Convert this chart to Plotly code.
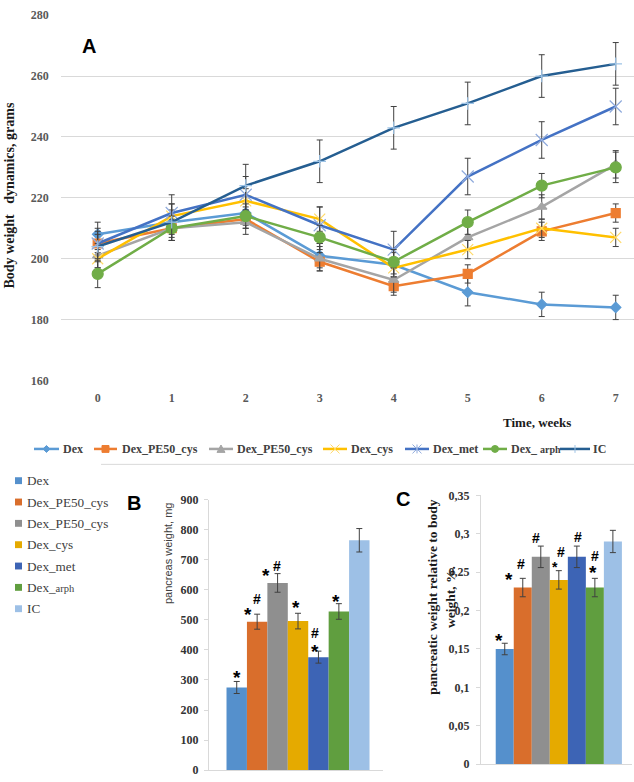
import plotly.graph_objects as go

W, H = 634, 782

# ---------------- DATA ----------------
weeks = [0, 1, 2, 3, 4, 5, 6, 7]
line_names = ["Dex", "Dex_PE50_cys", "Dex_PE50_cys", "Dex_cys", "Dex_met", "Dex_ arph", "IC"]
dex = [208, 212, 215, 201, 198, 189, 185, 184]
dex_pe50_a = [205, 210, 213, 199, 191, 195, 209, 215]
dex_pe50_b = [201, 210, 212, 200, 193, 207, 217, 231]
dex_cys = [200, 214, 219, 213, 197, 203, 210, 207]
dex_met = [205, 215, 221, 211, 203, 227, 239, 250]
dex_arph = [195, 210, 214, 207, 199, 212, 224, 230]
ic = [204, 212, 224, 232, 243, 251, 260, 264]

dex_err = [4, 4, 4, 4, 4, 4.5, 4, 4]
dex_pe50_a_err = [3, 3, 3, 3, 3, 3, 3, 3]
dex_pe50_b_err = [4, 4, 4, 4, 4, 4, 4, 4.5]
dex_cys_err = [3, 4, 4, 4, 3, 3, 3, 3]
dex_met_err = [5, 6, 6, 6, 6, 6, 6, 6]
dex_arph_err = [4.5, 4, 4, 4, 4, 4, 4, 5]
ic_err = [5, 6, 7, 7, 7, 7, 7, 7]

groups = ["Dex", "Dex_PE50_cys", "Dex_PE50_cys", "Dex_cys", "Dex_met", "Dex_arph", "IC"]
pancreas_mg = [275, 494, 623, 496, 376, 528, 765]
pancreas_err = [20, 25, 31, 26, 20, 26, 39]
ratio_pct = [0.15, 0.23, 0.27, 0.24, 0.27, 0.23, 0.29]
ratio_err = [0.0075, 0.012, 0.014, 0.012, 0.014, 0.012, 0.0145]

# significance marks (per bar)
sig_B = ["*", "*#", "*#", "*", "#*", "*", ""]
sig_C = ["*", "*#", "#", "*#", "#", "#*", ""]

# ---------------- STYLE ----------------
SERIF = "Liberation Serif, Times New Roman, serif"
SANS = "Liberation Sans, Arial, sans-serif"
line_colors = ["#5B9BD5", "#ED7D31", "#A5A5A5", "#FFC000", "#4472C4", "#70AD47", "#255E91"]
marker_syms = ["diamond", "square", "triangle-up", "x-thin-open", "x-thin-open", "circle", "cross-thin-open"]
marker_sizes = [8, 9, 9, 11, 12, 11, 9]
marker_cols = ["#5B9BD5", "#ED7D31", "#A5A5A5", "#FFD966", "#8FAADC", "#70AD47", "#9DC3E6"]
bar_colors = ["#5590CC", "#D96E2C", "#8F8F8F", "#E5AA00", "#3D64B5", "#609E3F", "#9DC0E6"]


def px(x):
    return x / W


def py(y):
    return 1 - y / H


fig = go.Figure()

series = [dex, dex_pe50_a, dex_pe50_b, dex_cys, dex_met, dex_arph, ic]
errs = [dex_err, dex_pe50_a_err, dex_pe50_b_err, dex_cys_err, dex_met_err, dex_arph_err, ic_err]
for i, (name, ys, er) in enumerate(zip(line_names, series, errs)):
    fig.add_trace(go.Scatter(
        x=weeks, y=ys, name=name, mode="lines+markers",
        line=dict(color=line_colors[i], width=2.5),
        marker=dict(symbol=marker_syms[i], size=marker_sizes[i], color=marker_cols[i],
                    line=dict(color=marker_cols[i], width=1.2)),
        error_y=dict(type="data", array=er, color="#404040", thickness=1, width=3),
        xaxis="x", yaxis="y", showlegend=False,
    ))

idx = list(range(len(groups)))
fig.add_trace(go.Bar(
    x=idx, y=pancreas_mg, width=1, marker=dict(color=bar_colors, line=dict(width=0)),
    error_y=dict(type="data", array=pancreas_err, color="#404040", thickness=1, width=3),
    xaxis="x2", yaxis="y2", showlegend=False, hovertext=groups,
))
fig.add_trace(go.Bar(
    x=idx, y=ratio_pct, width=1, marker=dict(color=bar_colors, line=dict(width=0)),
    error_y=dict(type="data", array=ratio_err, color="#404040", thickness=1, width=3),
    xaxis="x3", yaxis="y3", showlegend=False, hovertext=groups,
))

tickfont_grey = dict(family=SERIF, size=12, color="#595959", weight="bold")
tickfont_dark = dict(family=SERIF, size=12, color="#333333", weight="bold")

fig.update_layout(
    width=W, height=H, margin=dict(l=0, r=0, t=0, b=0),
    paper_bgcolor="white", plot_bgcolor="white",
    xaxis=dict(domain=[px(60.7), 1], range=[-0.5, 7.247], tickvals=weeks,
               showgrid=False, zeroline=False, showline=False, ticks="",
               tickfont=tickfont_grey, ticklabelstandoff=9),
    yaxis=dict(domain=[py(380.3), py(8.3)], range=[160, 280], dtick=20,
               showgrid=True, gridcolor="#D9D9D9", gridwidth=1, zeroline=False,
               showline=False, ticks="", tickfont=tickfont_grey, ticklabelstandoff=11),
    xaxis2=dict(domain=[px(209), px(383)], range=[-1.357, 7.16], anchor="y2",
                showgrid=False, zeroline=False, showline=True, linecolor="#D9D9D9",
                showticklabels=False, ticks=""),
    yaxis2=dict(domain=[py(777), py(501.7)], range=[0, 900], dtick=100, anchor="x2",
                showgrid=False, zeroline=False, showline=True, linecolor="#D9D9D9",
                ticks="outside", ticklen=4, tickcolor="#D9D9D9",
                tickfont=tickfont_dark, ticklabelstandoff=3),
    xaxis3=dict(domain=[px(481), px(632)], range=[-1.317, 7.06], anchor="y3",
                showgrid=False, zeroline=False, showline=True, linecolor="#D9D9D9",
                showticklabels=False, ticks=""),
    yaxis3=dict(domain=[py(771), py(497.3)], range=[0, 0.35], anchor="x3",
                tickvals=[0, 0.05, 0.1, 0.15, 0.2, 0.25, 0.3, 0.35],
                ticktext=["0", "0,05", "0,1", "0,15", "0,2", "0,25", "0,3", "0,35"],
                showgrid=False, zeroline=False, showline=True, linecolor="#D9D9D9",
                ticks="outside", ticklen=4, tickcolor="#D9D9D9",
                tickfont=tickfont_dark, ticklabelstandoff=4),
)

ann = []
shapes = []

# panel letters
for letter, x, y in [("A", 89, 40), ("B", 134, 505), ("C", 403, 501)]:
    ann.append(dict(text=letter, x=px(x), y=py(y), xref="paper", yref="paper", showarrow=False,
                    font=dict(family=SANS, size=20, color="black", weight="bold"),
                    xanchor="center", yanchor="middle"))

# axis titles
ann.append(dict(text="Body weight\u00a0\u00a0\u00a0dynamics, grams", x=px(10), y=py(192),
                xref="paper", yref="paper", showarrow=False, textangle=-90,
                font=dict(family=SERIF, size=14, color="#1a1a1a", weight="bold"),
                xanchor="center", yanchor="middle"))
ann.append(dict(text="Time, weeks", x=px(537), y=py(423.3), xref="paper", yref="paper",
                showarrow=False, font=dict(family=SERIF, size=13, color="#1a1a1a", weight="bold"),
                xanchor="center", yanchor="middle"))
ann.append(dict(text="pancreas weight, mg", x=px(168), y=py(556), xref="paper", yref="paper",
                showarrow=False, textangle=-90,
                font=dict(family=SANS, size=11, color="#404040"),
                xanchor="center", yanchor="middle"))
ann.append(dict(text="pancreatic weight relative to body<br>weight, %.", x=px(441.5), y=py(601),
                xref="paper", yref="paper", showarrow=False, textangle=-90,
                font=dict(family=SERIF, size=13.5, color="#1a1a1a", weight="bold"),
                xanchor="center", yanchor="middle"))

# ---- top legend (line chart) ----
leg_y = 450
leg_line = [(34, 59), (94, 117), (209, 233), (323, 347), (405, 429), (483, 507), (560, 590)]
leg_text_x = [61, 120, 235, 349, 431, 509, 591]
legend_labels = ["Dex", "Dex_PE50_cys", "Dex_PE50_cys", "Dex_cys", "Dex_met",
                 "Dex_ <span style='font-size:10px'>arph</span>", "IC"]


def pline(x0, y0, x1, y1, color, w):
    return dict(type="line", xref="paper", yref="paper", x0=px(x0), y0=py(y0), x1=px(x1), y1=py(y1),
                line=dict(color=color, width=w))


def ppath(points, color, fill=True, w=1):
    d = "M " + " L ".join(f"{px(a):.5f},{py(b):.5f}" for a, b in points) + (" Z" if fill else "")
    return dict(type="path", xref="paper", yref="paper", path=d,
                fillcolor=color if fill else None, line=dict(color=color, width=w))


for i, ((x0, x1), tx) in enumerate(zip(leg_line, leg_text_x)):
    shapes.append(pline(x0, leg_y, x1, leg_y, line_colors[i], 2.5))
    cx = (x0 + x1) / 2
    r = 3.5
    c = marker_cols[i]
    sym = marker_syms[i]
    if sym == "diamond":
        shapes.append(ppath([(cx, leg_y - r), (cx + r, leg_y), (cx, leg_y + r), (cx - r, leg_y)], c))
    elif sym == "square":
        shapes.append(ppath([(cx - r, leg_y - r), (cx + r, leg_y - r), (cx + r, leg_y + r), (cx - r, leg_y + r)], c))
    elif sym == "triangle-up":
        shapes.append(ppath([(cx, leg_y - r - 0.5), (cx + r + 0.5, leg_y + r), (cx - r - 0.5, leg_y + r)], c))
    elif sym == "circle":
        shapes.append(dict(type="circle", xref="paper", yref="paper", x0=px(cx - r), x1=px(cx + r),
                           y0=py(leg_y + r), y1=py(leg_y - r), fillcolor=c, line=dict(color=c, width=1)))
    elif sym == "x-thin-open":
        rr = 4.5
        shapes.append(pline(cx - rr, leg_y - rr, cx + rr, leg_y + rr, c, 1))
        shapes.append(pline(cx - rr, leg_y + rr, cx + rr, leg_y - rr, c, 1))
        if i == 4:
            shapes.append(pline(cx, leg_y - rr, cx, leg_y + rr, c, 1))
    elif sym == "cross-thin-open":
        rr = 4
        shapes.append(pline(cx, leg_y - rr, cx, leg_y + rr, c, 1))
    ann.append(dict(text=legend_labels[i], x=px(tx), y=py(leg_y), xref="paper", yref="paper",
                    showarrow=False, xanchor="left", yanchor="middle",
                    font=dict(family=SERIF, size=12, color="#404040", weight="bold")))

# separator line
shapes.append(pline(101, 465.7, 634, 465.7, "#D9D9D9", 1))

# ---- left legend (bars) ----
bar_legend_labels = ["Dex", "Dex_PE50_cys", "Dex_PE50_cys", "Dex_cys", "Dex_met",
                     "Dex_<span style='font-size:10.5px'>arph</span>", "IC"]
for i, lab in enumerate(bar_legend_labels):
    yy = 482.3 + i * 21.73
    shapes.append(dict(type="rect", xref="paper", yref="paper", x0=px(15), x1=px(22),
                       y0=py(yy + 3.5), y1=py(yy - 3.5), fillcolor=bar_colors[i], line=dict(width=0)))
    ann.append(dict(text=lab, x=px(25), y=py(yy), xref="paper", yref="paper", showarrow=False,
                    xanchor="left", yanchor="middle",
                    font=dict(family=SERIF, size=13.2, color="#404040")))

# ---- significance marks ----
# offsets (dx, dy in px relative to bar centre / error-bar top), one per symbol in the mark string
off_B = [[(0, 8.7)], [(-9.2, 5.3), (0, 15.6)], [(-11.5, 3.7), (-0.5, 8.7)], [(-2, 10.6)],
         [(-3, 18.5), (-3, 4.5)], [(-3, 7.3)], []]
off_C = [[(-5.7, 8.3)], [(-13.5, 4), (-1.8, 15.3)], [(-4.7, 9)], [(-3.8, 7.3), (1.9, 19)],
         [(1, 9.7)], [(0, 23), (-2, 10.6)], []]
size_B = {"*": 19, "#": 14}
size_C = [{"*": 19, "#": 14}] * 3 + [{"*": 14, "#": 14}] + [{"*": 19, "#": 14}] * 3


def add_marks(marks, offs, vals, errv, xa, ya, sizes):
    for i, (m, o) in enumerate(zip(marks, offs)):
        for ch, (dx, dy) in zip(m, o):
            fs = sizes[i][ch] if isinstance(sizes, list) else sizes[ch]
            corr = 0.27 * fs if ch == "*" else 0.05 * fs
            ann.append(dict(text=ch, x=i, y=vals[i] + errv[i], xref=xa, yref=ya, showarrow=False,
                            xanchor="center", yanchor="middle", xshift=dx, yshift=dy - corr,
                            font=dict(family=SANS, size=fs, color="black", weight="bold")))


add_marks(sig_B, off_B, pancreas_mg, pancreas_err, "x2", "y2", size_B)
add_marks(sig_C, off_C, ratio_pct, ratio_err, "x3", "y3", size_C)

fig.update_layout(annotations=ann, shapes=shapes)
fig.write_html("out.html", config={"displayModeBar": False},
               post_script="document.body.style.margin='0';document.body.style.overflow='hidden';")
